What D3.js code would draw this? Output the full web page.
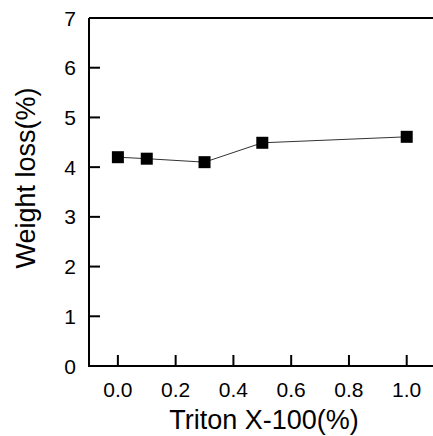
<!DOCTYPE html>
<html>
<head>
<meta charset="utf-8">
<script src="https://cdn.jsdelivr.net/npm/d3@7"></script>
<style>
  body { margin: 0; background: #fff; }
  svg { display: block; font-family: "Liberation Sans", Arial, sans-serif; }
</style>
</head>
<body>
<div id="chart"></div>
<script>
// Data
const tritonPct = [0.0, 0.1, 0.3, 0.5, 1.0];
const weightLoss = [4.20, 4.17, 4.10, 4.49, 4.61];
const xTicks = [0.0, 0.2, 0.4, 0.6, 0.8, 1.0];
const yTicks = [0, 1, 2, 3, 4, 5, 6, 7];

const width = 433, height = 436;
const plotL = 89, plotT = 18, plotB = 366, plotR = 435.6;

const svg = d3.select('#chart').append('svg')
    .attr('width', width)
    .attr('height', height);

const x = d3.scaleLinear().domain([-0.1, 1.1]).range([plotL, plotR]);
const y = d3.scaleLinear().domain([0, 7]).range([plotB, plotT]);

// Frame lines: left, bottom, top
const frame = svg.append('g').attr('stroke', '#000').attr('stroke-width', 2).attr('fill', 'none');
frame.append('path').attr('d', `M${plotL},${plotT}V${plotB}H${width + 2}`);
frame.append('path').attr('d', `M${plotL},${plotT}H${width + 2}`);

// Y ticks (inward)
svg.append('g').selectAll('line').data(yTicks.filter(d => d > 0 && d < 7)).join('line')
    .attr('x1', plotL).attr('x2', plotL + 11)
    .attr('y1', d => y(d)).attr('y2', d => y(d))
    .attr('stroke', '#000').attr('stroke-width', 2);

svg.append('g').selectAll('text').data(yTicks).join('text')
    .attr('x', plotL - 13)
    .attr('y', d => y(d))
    .attr('dy', '0.36em')
    .attr('text-anchor', 'end')
    .attr('font-size', 21)
    .text(d => d);

// X ticks (inward)
svg.append('g').selectAll('line').data(xTicks).join('line')
    .attr('x1', d => x(d)).attr('x2', d => x(d))
    .attr('y1', plotB).attr('y2', plotB - 11)
    .attr('stroke', '#000').attr('stroke-width', 2);

svg.append('g').selectAll('text').data(xTicks).join('text')
    .attr('x', d => x(d))
    .attr('y', 397)
    .attr('text-anchor', 'middle')
    .attr('font-size', 21)
    .text(d => d.toFixed(1));

// Axis titles
svg.append('text')
    .attr('x', 264)
    .attr('y', 429)
    .attr('text-anchor', 'middle')
    .attr('font-size', 27)
    .text('Triton X-100(%)');

svg.append('text')
    .attr('transform', 'translate(35,178) rotate(-90)')
    .attr('text-anchor', 'middle')
    .attr('font-size', 27)
    .text('Weight loss(%)');

// Series
const pts = tritonPct.map((v, i) => [v, weightLoss[i]]);

svg.append('path')
    .datum(pts)
    .attr('fill', 'none')
    .attr('stroke', '#333')
    .attr('stroke-width', 1)
    .attr('d', d3.line().x(d => x(d[0])).y(d => y(d[1])));

const s = 12;
svg.append('g').selectAll('rect').data(pts).join('rect')
    .attr('x', d => x(d[0]) - s / 2)
    .attr('y', d => y(d[1]) - s / 2)
    .attr('width', s).attr('height', s)
    .attr('fill', '#000');
</script>
</body>
</html>
